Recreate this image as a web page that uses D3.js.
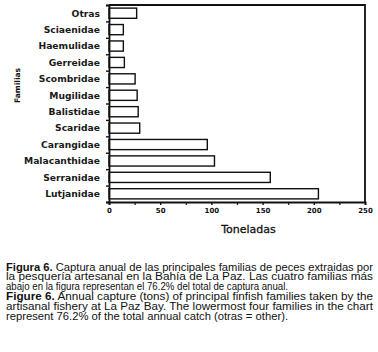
<!DOCTYPE html>
<html>
<head>
<meta charset="utf-8">
<script src="https://cdn.jsdelivr.net/npm/d3@7"></script>
<style>
  html, body { margin: 0; padding: 0; background: #fff; }
  svg { display: block; }
</style>
</head>
<body>
<div id="chart"></div>
<script>
// familias (de arriba hacia abajo) y toneladas
const familias = ["Otras", "Sciaenidae", "Haemulidae", "Gerreidae", "Scombridae", "Mugilidae",
                  "Balistidae", "Scaridae", "Carangidae", "Malacanthidae", "Serranidae", "Lutjanidae"];
const toneladas = [27, 14, 14, 15, 25.5, 27.5, 28.5, 30, 96, 103, 157.5, 204.5];
const xTicks = [0, 50, 100, 150, 200, 250];
const xMinorTicks = [25, 75, 125, 175, 225];

const captionLines = [
  [{ t: "Figura 6.", b: true }, { t: " Captura anual de las principales familias de peces extraidas por" }],
  [{ t: "la pesquería artesanal en la Bahía de La Paz. Las cuatro familias más" }],
  [{ t: "abajo en la figura representan el 76.2% del total de captura anual." }],
  [{ t: "Figure 6.", b: true }, { t: " Annual capture (tons) of principal finfish families taken by the" }],
  [{ t: "artisanal fishery at La Paz Bay. The lowermost four families in the chart" }],
  [{ t: "represent 76.2% of the total annual catch (otras = other)." }]
];

const W = 378, H = 352;
const plot = { left: 109, right: 365, top: 5, bottom: 202 };
const wide = "'DejaVu Sans', Verdana, sans-serif";

const svg = d3.select("#chart").append("svg")
  .attr("width", W).attr("height", H)
  .style("font-family", wide);

const dataset = familias.map((f, i) => ({ familia: f, valor: toneladas[i] }));

const x = d3.scaleLinear().domain([0, 250]).range([plot.left, plot.right]);
const y = d3.scaleBand().domain(familias).range([plot.top, plot.bottom]).paddingInner(0.38).paddingOuter(0.19);
const yLin = d3.scaleLinear().domain([0, familias.length]).range([plot.top, plot.bottom]);

// barras
svg.selectAll(".bar")
  .data(dataset)
  .enter()
  .append("rect")
  .attr("class", "bar")
  .attr("x", x(0))
  .attr("y", d => y(d.familia))
  .attr("width", d => x(d.valor) - x(0))
  .attr("height", y.bandwidth())
  .attr("fill", "#fff")
  .attr("stroke", "#111")
  .attr("stroke-width", 1.4);

// marco superior y derecho
svg.append("path")
  .attr("d", `M${plot.left},${plot.top}H${plot.right}V${plot.bottom}`)
  .attr("fill", "none").attr("stroke", "#111").attr("stroke-width", 1.8);

// eje y: marcas entre categorias
const yAxis = svg.append("g")
  .attr("transform", `translate(${plot.left},0)`)
  .call(d3.axisLeft(yLin).tickValues(d3.range(0, familias.length + 1)).tickSize(3).tickFormat(""));
yAxis.select(".domain").attr("stroke-width", 1.8).attr("stroke", "#111");
yAxis.selectAll(".tick line").attr("stroke-width", 1.4).attr("stroke", "#111");

// etiquetas de familias
svg.selectAll(".flabel")
  .data(familias)
  .enter()
  .append("text")
  .attr("class", "flabel")
  .attr("x", 100)
  .attr("y", d => y(d) + y.bandwidth() / 2)
  .attr("dy", "0.36em")
  .attr("text-anchor", "end")
  .style("font-family", wide)
  .style("font-size", "9.2px")
  .style("font-weight", "bold")
  .style("fill", "#1a1a1a")
  .text(d => d);

// eje x
const xAxis = svg.append("g")
  .attr("transform", `translate(0,${plot.bottom})`)
  .call(d3.axisBottom(x).tickValues(xTicks).tickSize(3).tickPadding(3));
xAxis.select(".domain").attr("stroke-width", 1.8).attr("stroke", "#111");
xAxis.selectAll(".tick line").attr("stroke-width", 1.4).attr("stroke", "#111");
xAxis.selectAll("text")
  .attr("dy", 0)
  .attr("y", 11)
  .style("font-size", "7px")
  .style("font-weight", "bold")
  .style("font-family", wide)
  .style("fill", "#111");

svg.append("g")
  .attr("transform", `translate(0,${plot.bottom})`)
  .call(d3.axisBottom(x).tickValues(xMinorTicks).tickSize(3).tickFormat(""))
  .call(g => g.select(".domain").remove())
  .selectAll(".tick line").attr("stroke-width", 1.2).attr("stroke", "#111");

// titulos de ejes
svg.append("text")
  .attr("x", 248.5).attr("y", 233)
  .attr("text-anchor", "middle")
  .style("font-size", "11px")
  .style("fill", "#111")
  .style("stroke", "#111")
  .style("stroke-width", 0.3)
  .text("Toneladas");

svg.append("text")
  .attr("transform", "translate(19.5,85.5) rotate(-90)")
  .attr("text-anchor", "middle")
  .style("font-size", "7.6px")
  .style("font-weight", "bold")
  .style("fill", "#111")
  .text("Familias");

// pie de figura (justificado)
const capWidths = [367, 367, 282, 367, 367, 282];
const cap = svg.append("g")
  .style("font-family", "'Liberation Sans Narrow', 'Arial Narrow', 'Liberation Sans', sans-serif")
  .style("font-size", "10px")
  .style("fill", "#111");

captionLines.forEach((parts, i) => {
  const t = cap.append("text")
    .attr("x", 6)
    .attr("y", 270.5 + i * 9.9)
    .attr("textLength", capWidths[i])
    .attr("lengthAdjust", "spacingAndGlyphs");
  parts.forEach(p => {
    t.append("tspan").attr("font-weight", p.b ? "bold" : null).text(p.t);
  });
});
</script>
</body>
</html>
